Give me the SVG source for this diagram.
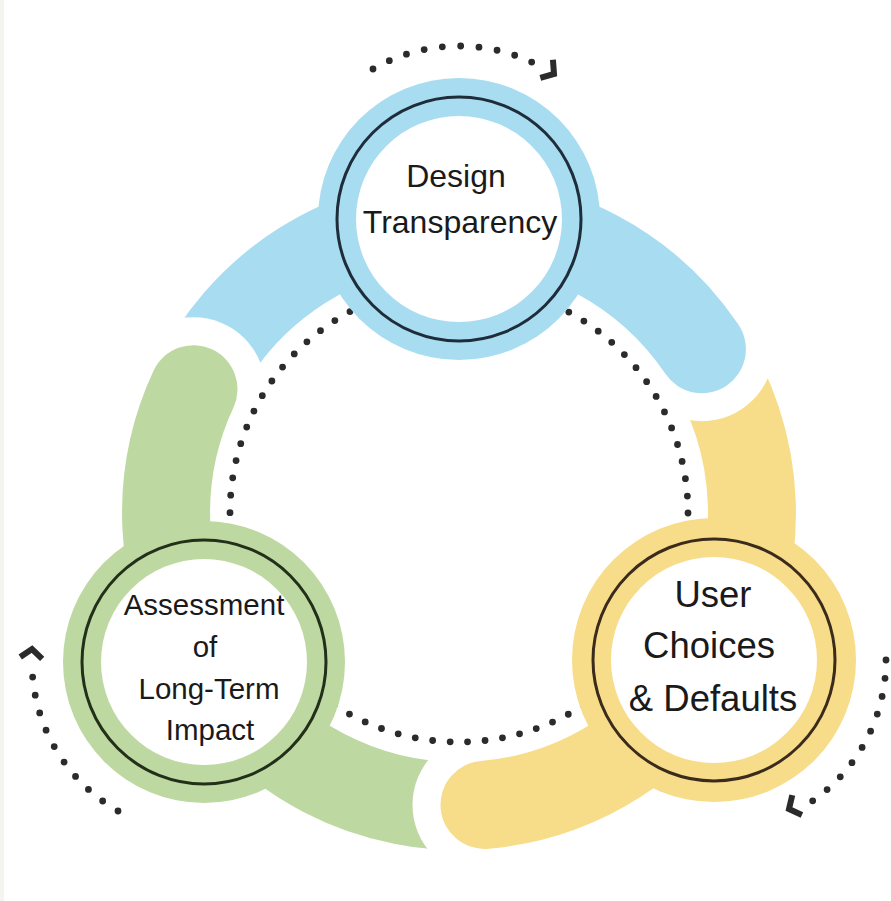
<svg xmlns="http://www.w3.org/2000/svg" width="891" height="901" viewBox="0 0 891 901">
  <style>
    .band { fill: none; stroke-width: 88; }
    .tail { stroke-linecap: butt; }
    .head { stroke-linecap: round; }
    .blue { stroke: #A8DCF0; }
    .yellow { stroke: #F7DC89; }
    .green { stroke: #BED8A2; }
    .cut { fill: #FFFFFF; }
    .dots { fill: none; stroke: #2B2B2B; stroke-width: 6.8; stroke-linecap: round; }
    .chev { fill: none; stroke: #2B2B2B; stroke-width: 6; stroke-linejoin: miter; stroke-linecap: butt; }
    .hole { fill: #FFFFFF; }
    .label { font-family: "Liberation Sans", Arial, sans-serif; fill: #1A1A1A; text-anchor: middle; }
  </style>
  <defs>
    <path id="chevron" d="M -9 -11 L 0 0 L -9 11"/>
  </defs>

  <rect width="891" height="901" fill="#FFFFFF"/>
  <rect width="4" height="901" fill="#F6F4EF"/>

  <!-- thick arc bands around the cycle (centre 459,513; radius 293) -->
  <g id="bands">
    <!-- trailing parts, cut later by white gaps -->
    <path class="band tail blue" d="M193.5,389.2 A293,293 0 0 1 459,220"/>
    <path class="band tail yellow" d="M701.9,349.2 A293,293 0 0 1 712.7,659.5"/>
    <path class="band tail green" d="M484.5,804.9 A293,293 0 0 1 205.3,659.5"/>
    <!-- white gaps around each rounded end -->
    <circle class="cut" cx="701.9" cy="349.2" r="72"/>
    <circle class="cut" cx="484.5" cy="804.9" r="72"/>
    <circle class="cut" cx="193.5" cy="389.2" r="72"/>
    <!-- leading parts with rounded ends -->
    <path class="band head blue" d="M459,220 A293,293 0 0 1 701.9,349.2"/>
    <path class="band head yellow" d="M712.7,659.5 A293,293 0 0 1 484.5,804.9"/>
    <path class="band head green" d="M205.3,659.5 A293,293 0 0 1 193.5,389.2"/>
  </g>

  <g id="connectors">
    <!-- inner dotted ring -->
    <circle class="dots" cx="459" cy="513" r="229" stroke-dasharray="0 17.547"/>
  </g>

  <g id="design-transparency">
    <circle cx="459" cy="219" r="141" fill="#A8DCF0"/>
    <circle class="hole" cx="459" cy="219" r="103"/>
    <circle cx="459" cy="219" r="122" fill="none" stroke="#1F2D3A" stroke-width="3"/>
    <text class="label" font-size="32"><tspan x="456" y="187">Design</tspan><tspan x="460" y="233">Transparency</tspan></text>
  </g>

  <g id="user-choices-defaults">
    <circle cx="714" cy="660" r="142" fill="#F7DC89"/>
    <circle class="hole" cx="714" cy="660" r="103"/>
    <circle cx="714" cy="660" r="121" fill="none" stroke="#3A2B1C" stroke-width="3"/>
    <text class="label" font-size="36.5"><tspan x="713" y="607">User</tspan><tspan x="709" y="658">Choices</tspan><tspan x="713" y="711">&amp; Defaults</tspan></text>
  </g>

  <g id="assessment-long-term-impact">
    <circle cx="204" cy="662" r="141" fill="#BED8A2"/>
    <circle class="hole" cx="204" cy="662" r="103"/>
    <circle cx="204" cy="662" r="122" fill="none" stroke="#22301A" stroke-width="3"/>
    <text class="label" font-size="29.5"><tspan x="204" y="615">Assessment</tspan><tspan x="205" y="657">of</tspan><tspan x="209" y="699">Long-Term</tspan><tspan x="210" y="740">Impact</tspan></text>
  </g>

  <g id="cycle-arrows">
    <path class="dots" d="M373,69 A172,172 0 0 1 531.7,62.1" stroke-dasharray="0 18.33"/>
    <path class="dots" d="M886,660 A172,172 0 0 1 812.65,800.9" stroke-dasharray="0 18.33"/>
    <path class="dots" d="M118,811 A172,172 0 0 1 32.65,677" stroke-dasharray="0 18.33"/>
    <use href="#chevron" class="chev" transform="translate(554,74) rotate(35)"/>
    <use href="#chevron" class="chev" transform="translate(789,809) rotate(154)"/>
    <use href="#chevron" class="chev" transform="translate(32,649) rotate(275)"/>
  </g>
</svg>
